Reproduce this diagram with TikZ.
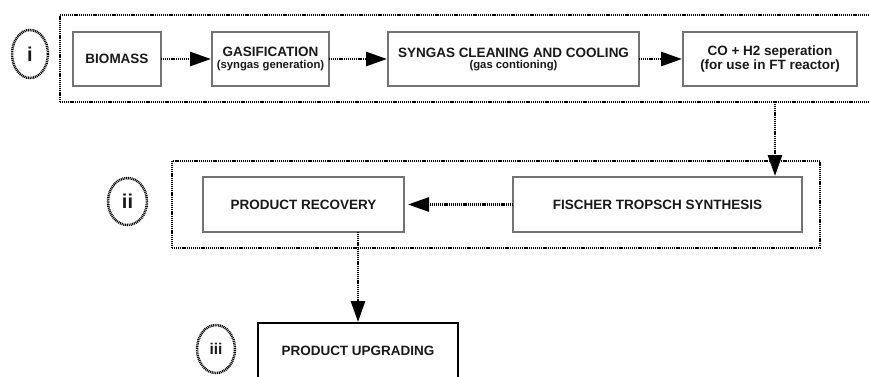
\documentclass[tikz,border=0pt]{standalone}
\usepackage{fontspec}
\setmainfont{Liberation Sans}
\usetikzlibrary{arrows.meta,shapes.geometric}
\tikzset{
  procbox/.style={draw=black!55, line width=1.5pt, fill=white, minimum height=54pt,
    inner sep=0pt, outer sep=0pt, align=center, text=black!90,
    font=\fontsize{13.5}{14}\selectfont\bfseries},
  finalbox/.style={procbox, draw=black, line width=2.8pt},
  stagebox/.style={draw=black, line width=2.7pt, dash pattern=on 1.1pt off 0.8pt,
    minimum height=87pt, inner sep=0pt, outer sep=0pt},
  stagemark/.style={ellipse, draw=black, line width=2.5pt, dash pattern=on 1pt off 0.8pt,
    minimum width=37pt, minimum height=47pt, inner sep=0pt, text=black!90},
  conn/.style={draw=black, line width=2.8pt, dash pattern=on 1.1pt off 0.8pt,
    -{Triangle[length=21pt,width=14pt]}}
}
\begin{document}
\begin{tikzpicture}[x=1pt,y=-1pt]
\useasboundingbox (0,0) rectangle (869,376);
\clip (0,0) rectangle (869,376);
% stage frames
\node[stagebox, minimum width=815pt] (stageI) at (467.5,58.5) {};
\node[stagebox, minimum width=648pt] (stageII) at (496,204.5) {};
% stage marks
\node[stagemark, minimum width=36pt, minimum height=48pt, font=\fontsize{20}{20}\selectfont\bfseries] (mi) at (30,54) {i};
\node[stagemark, minimum width=39pt, minimum height=47pt, font=\fontsize{20}{20}\selectfont\bfseries] (mii) at (127.5,201.5) {ii};
\node[stagemark, minimum width=38pt, minimum height=48pt, font=\fontsize{15.5}{16}\selectfont\bfseries] (miii) at (216,349) {iii};
% process boxes
\node[procbox, minimum width=88pt] (bio) at (117,59) {BIOMASS};
\node[procbox, minimum width=117pt] (gas) at (270.5,59) {GASIFICATION\\[-2.5pt]{\fontsize{11.3}{12}\selectfont (syngas generation)}};
\node[procbox, minimum width=251pt] (syn) at (513.5,59) {SYNGAS CLEANING AND COOLING\\[-3pt]{\fontsize{11.3}{12}\selectfont (gas contioning)}};
\node[procbox, minimum width=174pt] (co) at (770,59) {CO + H2 seperation\\[0pt](for use in FT reactor)};
\node[procbox, minimum width=201pt, minimum height=55pt] (pr) at (303.5,204.5) {PRODUCT RECOVERY};
\node[procbox, minimum width=289pt, minimum height=55pt] (ft) at (657.5,204.5) {FISCHER TROPSCH SYNTHESIS};
\node[finalbox, minimum width=200pt, minimum height=55pt] (pu) at (358,350.5) {PRODUCT UPGRADING};
\coordinate (cox) at (775,0);
% connectors
\draw[conn, shorten >=1pt] (bio.east) -- (gas.west);
\draw[conn, shorten >=1pt] (gas.east) -- (syn.west);
\draw[conn, shorten >=1pt] (syn.east) -- (co.west);
\draw[conn, shorten >=1pt] (stageI.south -| cox) -- (ft.north -| cox);
\draw[conn, shorten >=4pt] (ft.west) -- (pr.east);
\draw[conn, shorten >=1pt] (pu.north |- pr.south) -- (pu.north);
\end{tikzpicture}
\end{document}
